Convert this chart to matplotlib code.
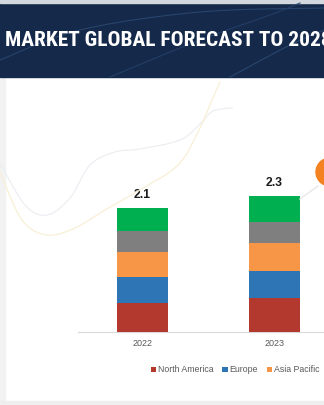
import matplotlib
matplotlib.use("Agg")
import matplotlib.pyplot as plt
from matplotlib.patches import Rectangle, Ellipse
from matplotlib import font_manager
import numpy as np

# ---- data ----
years = ["2022", "2023"]
totals = [2.1, 2.3]
regions = ["North America", "Europe", "Asia Pacific", "Middle East & Africa", "South America"]
north_america = [0.50, 0.57]
europe = [0.44, 0.47]
asia_pacific = [0.42, 0.47]
middle_east_africa = [0.35, 0.36]
south_america = [0.39, 0.43]
title = "MARKET GLOBAL FORECAST TO 2028"

colors = ["#B3392F", "#2E75B6", "#F79646", "#7F7F7F", "#00B050"]
series = [north_america, europe, asia_pacific, middle_east_africa, south_america]

W, H = 324, 405
fig = plt.figure(figsize=(W / 100, H / 100), dpi=100)
fig.patch.set_facecolor("white")

def fx(px):
    return np.asarray(px, dtype=float) / W

def fy(py):
    return 1 - np.asarray(py, dtype=float) / H

def smooth(pts, n=20):
    p = np.array(pts, dtype=float)
    p = np.vstack([p[0], p, p[-1]])
    out = []
    for i in range(1, len(p) - 2):
        p0, p1, p2, p3 = p[i - 1], p[i], p[i + 1], p[i + 2]
        for t in np.linspace(0, 1, n, endpoint=False):
            t2, t3 = t * t, t * t * t
            out.append(0.5 * ((2 * p1) + (-p0 + p2) * t + (2 * p0 - 5 * p1 + 4 * p2 - p3) * t2
                              + (-p0 + 3 * p1 - 3 * p2 + p3) * t3))
    out.append(p[-2])
    return np.array(out)

# background panels
fig.add_artist(Rectangle((0, 0), fx(5), fy(76), transform=fig.transFigure,
                         color="#F2F2F2", zorder=0))
fig.add_artist(Rectangle((0, 0), 1, fy(401), transform=fig.transFigure,
                         color="#EEEEEE", zorder=0))
# header banner
fig.add_artist(Rectangle((0, fy(77)), 1, fy(3) - fy(77), transform=fig.transFigure,
                         color="#15294A", zorder=1))
fig.add_artist(Rectangle((0, fy(3)), 1, 1 - fy(3), transform=fig.transFigure,
                         color="#D3D7DE", zorder=1))
# faint decorative arcs in banner
for pts, c in [([(0, 60), (80, 30), (200, 12), (324, 8)], "#2A4870"),
               ([(110, 77), (200, 40), (270, 15), (300, 3)], "#24416A"),
               ([(230, 77), (290, 45), (324, 30)], "#2A4A72")]:
    s = smooth(pts)
    fig.add_artist(plt.Line2D(fx(s[:, 0]), fy(s[:, 1]), transform=fig.transFigure, color=c,
                              lw=0.8, alpha=0.9, zorder=1.5))

# pick a condensed font for the banner if available
names = {f.name for f in font_manager.fontManager.ttflist}
title_family = "DejaVu Sans"
for cand in ["Liberation Sans Narrow", "DejaVu Sans Condensed", "Roboto Condensed",
             "Open Sans Condensed", "Noto Sans Display", "Roboto"]:
    if cand in names:
        title_family = cand
        break
ttl = fig.text(fx(5), fy(40), title, transform=fig.transFigure, color="white",
               fontsize=15.5, fontweight="bold", family=[title_family, "DejaVu Sans"],
               va="center", ha="left", zorder=3)
fig.canvas.draw()
bb = ttl.get_window_extent()
target = 327.0
ttl.set_fontsize(15.5 * target / bb.width)

# decorative faint curves in chart area
gray_pts = [(0, 163), (25, 205), (47, 215), (70, 198), (90, 165), (115, 152), (140, 149),
            (180, 140), (200, 124), (213, 111), (232, 108)]
yel_pts = [(0, 172), (22, 220), (47, 235), (75, 228), (105, 210), (140, 190), (178, 165),
           (198, 132), (212, 100), (220, 82)]
for pts, c in [(gray_pts, "#ECEEF2"), (yel_pts, "#F8EFD6")]:
    s = smooth(pts)
    fig.add_artist(plt.Line2D(fx(s[:, 0]), fy(s[:, 1]), transform=fig.transFigure,
                              color=c, lw=0.9, zorder=1.5))
fig.add_artist(plt.Line2D(fx([300, 318]), fy([199, 186]), transform=fig.transFigure,
                          color="#E8E8E8", lw=1.0, zorder=1.5))
fig.add_artist(Ellipse((fx(330), fy(172)), fx(28), 28 / H, transform=fig.transFigure,
                       color="#F58220", zorder=2))

# axes: baseline at y=332px, left 78px, right 324px
ax = fig.add_axes([fx(78), fy(332), fx(324) - fx(78), fy(80) - fy(332)])
ax.set_facecolor("none")
px_per_unit = 132.0
x = np.arange(len(years))
left_u = -(142.5 - 78) / px_per_unit
ax.set_xlim(left_u, left_u + (324 - 78) / px_per_unit)
ax.set_ylim(0, 252 / 59.0)

bottom = np.zeros(len(years))
for vals, c, name in zip(series, colors, regions):
    ax.bar(x, vals, bottom=bottom, width=51 / px_per_unit, color=c, label=name, zorder=3)
    bottom += np.array(vals)

for xi, tot, top in zip(x, totals, bottom):
    ax.text(xi, top + 0.12, f"{tot}", ha="center", va="bottom", fontsize=8.7,
            fontweight="bold", color="#1A1A1A", family="Liberation Sans")

for s in ["top", "right", "left"]:
    ax.spines[s].set_visible(False)
ax.spines["bottom"].set_color("#D9D9D9")
ax.spines["bottom"].set_linewidth(0.8)
ax.set_yticks([])
ax.set_xticks(x)
ax.set_xticklabels(years, fontsize=6.5, color="#595959", family="Liberation Sans")
ax.tick_params(axis="x", length=0, pad=5)

leg = fig.legend(loc="center left", bbox_to_anchor=(fx(147), fy(370)), ncol=5,
                 frameon=False, handlelength=0.6, handleheight=0.6,
                 handletextpad=0.25, columnspacing=1.0, borderaxespad=0,
                 prop={"family": "Liberation Sans", "size": 6.3})
for txt in leg.get_texts():
    txt.set_color("#595959")

fig.savefig("out.png", dpi=100)
